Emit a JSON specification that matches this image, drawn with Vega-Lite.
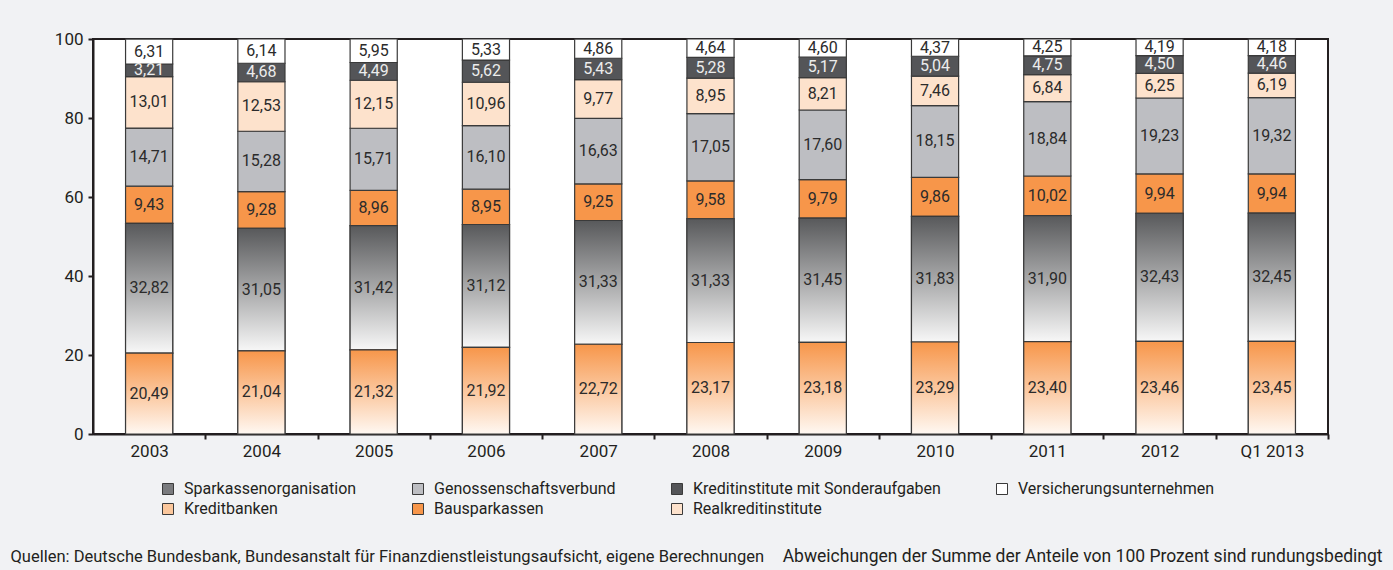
{
  "$schema": "https://vega.github.io/schema/vega-lite/v6.json",
  "width": 1235,
  "height": 395,
  "autosize": {"type": "none"},
  "padding": {"left": 93, "top": 39, "right": 65, "bottom": 136},
  "background": "#f1f2f4",
  "config": {
    "locale": {"number": {"decimal": ",", "thousands": ".", "grouping": [3], "currency": ["", " €"]}},
    "view": {"fill": "#ffffff", "stroke": "#231f20", "strokeWidth": 2},
    "font": "Roboto"
  },
  "data": {"values": [
    {"year": "2003", "series": "Kreditbanken", "value": 20.49},
    {"year": "2003", "series": "Sparkassenorganisation", "value": 32.82},
    {"year": "2003", "series": "Bausparkassen", "value": 9.43},
    {"year": "2003", "series": "Genossenschaftsverbund", "value": 14.71},
    {"year": "2003", "series": "Realkreditinstitute", "value": 13.01},
    {"year": "2003", "series": "Kreditinstitute mit Sonderaufgaben", "value": 3.21},
    {"year": "2003", "series": "Versicherungsunternehmen", "value": 6.31},
    {"year": "2004", "series": "Kreditbanken", "value": 21.04},
    {"year": "2004", "series": "Sparkassenorganisation", "value": 31.05},
    {"year": "2004", "series": "Bausparkassen", "value": 9.28},
    {"year": "2004", "series": "Genossenschaftsverbund", "value": 15.28},
    {"year": "2004", "series": "Realkreditinstitute", "value": 12.53},
    {"year": "2004", "series": "Kreditinstitute mit Sonderaufgaben", "value": 4.68},
    {"year": "2004", "series": "Versicherungsunternehmen", "value": 6.14},
    {"year": "2005", "series": "Kreditbanken", "value": 21.32},
    {"year": "2005", "series": "Sparkassenorganisation", "value": 31.42},
    {"year": "2005", "series": "Bausparkassen", "value": 8.96},
    {"year": "2005", "series": "Genossenschaftsverbund", "value": 15.71},
    {"year": "2005", "series": "Realkreditinstitute", "value": 12.15},
    {"year": "2005", "series": "Kreditinstitute mit Sonderaufgaben", "value": 4.49},
    {"year": "2005", "series": "Versicherungsunternehmen", "value": 5.95},
    {"year": "2006", "series": "Kreditbanken", "value": 21.92},
    {"year": "2006", "series": "Sparkassenorganisation", "value": 31.12},
    {"year": "2006", "series": "Bausparkassen", "value": 8.95},
    {"year": "2006", "series": "Genossenschaftsverbund", "value": 16.10},
    {"year": "2006", "series": "Realkreditinstitute", "value": 10.96},
    {"year": "2006", "series": "Kreditinstitute mit Sonderaufgaben", "value": 5.62},
    {"year": "2006", "series": "Versicherungsunternehmen", "value": 5.33},
    {"year": "2007", "series": "Kreditbanken", "value": 22.72},
    {"year": "2007", "series": "Sparkassenorganisation", "value": 31.33},
    {"year": "2007", "series": "Bausparkassen", "value": 9.25},
    {"year": "2007", "series": "Genossenschaftsverbund", "value": 16.63},
    {"year": "2007", "series": "Realkreditinstitute", "value": 9.77},
    {"year": "2007", "series": "Kreditinstitute mit Sonderaufgaben", "value": 5.43},
    {"year": "2007", "series": "Versicherungsunternehmen", "value": 4.86},
    {"year": "2008", "series": "Kreditbanken", "value": 23.17},
    {"year": "2008", "series": "Sparkassenorganisation", "value": 31.33},
    {"year": "2008", "series": "Bausparkassen", "value": 9.58},
    {"year": "2008", "series": "Genossenschaftsverbund", "value": 17.05},
    {"year": "2008", "series": "Realkreditinstitute", "value": 8.95},
    {"year": "2008", "series": "Kreditinstitute mit Sonderaufgaben", "value": 5.28},
    {"year": "2008", "series": "Versicherungsunternehmen", "value": 4.64},
    {"year": "2009", "series": "Kreditbanken", "value": 23.18},
    {"year": "2009", "series": "Sparkassenorganisation", "value": 31.45},
    {"year": "2009", "series": "Bausparkassen", "value": 9.79},
    {"year": "2009", "series": "Genossenschaftsverbund", "value": 17.60},
    {"year": "2009", "series": "Realkreditinstitute", "value": 8.21},
    {"year": "2009", "series": "Kreditinstitute mit Sonderaufgaben", "value": 5.17},
    {"year": "2009", "series": "Versicherungsunternehmen", "value": 4.60},
    {"year": "2010", "series": "Kreditbanken", "value": 23.29},
    {"year": "2010", "series": "Sparkassenorganisation", "value": 31.83},
    {"year": "2010", "series": "Bausparkassen", "value": 9.86},
    {"year": "2010", "series": "Genossenschaftsverbund", "value": 18.15},
    {"year": "2010", "series": "Realkreditinstitute", "value": 7.46},
    {"year": "2010", "series": "Kreditinstitute mit Sonderaufgaben", "value": 5.04},
    {"year": "2010", "series": "Versicherungsunternehmen", "value": 4.37},
    {"year": "2011", "series": "Kreditbanken", "value": 23.40},
    {"year": "2011", "series": "Sparkassenorganisation", "value": 31.90},
    {"year": "2011", "series": "Bausparkassen", "value": 10.02},
    {"year": "2011", "series": "Genossenschaftsverbund", "value": 18.84},
    {"year": "2011", "series": "Realkreditinstitute", "value": 6.84},
    {"year": "2011", "series": "Kreditinstitute mit Sonderaufgaben", "value": 4.75},
    {"year": "2011", "series": "Versicherungsunternehmen", "value": 4.25},
    {"year": "2012", "series": "Kreditbanken", "value": 23.46},
    {"year": "2012", "series": "Sparkassenorganisation", "value": 32.43},
    {"year": "2012", "series": "Bausparkassen", "value": 9.94},
    {"year": "2012", "series": "Genossenschaftsverbund", "value": 19.23},
    {"year": "2012", "series": "Realkreditinstitute", "value": 6.25},
    {"year": "2012", "series": "Kreditinstitute mit Sonderaufgaben", "value": 4.50},
    {"year": "2012", "series": "Versicherungsunternehmen", "value": 4.19},
    {"year": "Q1 2013", "series": "Kreditbanken", "value": 23.45},
    {"year": "Q1 2013", "series": "Sparkassenorganisation", "value": 32.45},
    {"year": "Q1 2013", "series": "Bausparkassen", "value": 9.94},
    {"year": "Q1 2013", "series": "Genossenschaftsverbund", "value": 19.32},
    {"year": "Q1 2013", "series": "Realkreditinstitute", "value": 6.19},
    {"year": "Q1 2013", "series": "Kreditinstitute mit Sonderaufgaben", "value": 4.46},
    {"year": "Q1 2013", "series": "Versicherungsunternehmen", "value": 4.18}
  ]},
  "transform": [
    {"calculate": "indexof(['Kreditbanken','Sparkassenorganisation','Bausparkassen','Genossenschaftsverbund','Realkreditinstitute','Kreditinstitute mit Sonderaufgaben','Versicherungsunternehmen'], datum.series)", "as": "rank"},
    {"stack": "value", "groupby": ["year"], "sort": [{"field": "rank", "order": "ascending"}], "as": ["y0", "y1"]},
    {"calculate": "(datum.y0 + datum.y1) / 2", "as": "ymid"}
  ],
  "encoding": {
    "x": {
      "field": "year", "type": "ordinal", "sort": null,
      "scale": {"paddingInner": 0.58, "paddingOuter": 0.29},
      "axis": {
        "title": "Abweichungen der Summe der Anteile von 100 Prozent sind rundungsbedingt",
        "titleX": 1289, "titleY": 127, "titleAlign": "right", "titleAnchor": "end", "titleBaseline": "alphabetic",
        "titleFontSize": 17.5, "titleFontWeight": "normal", "titleColor": "#231f20", "titleFont": "Roboto",
        "labelAngle": 0, "labelFontSize": 17, "labelColor": "#231f20", "labelPadding": 4, "labelFont": "Roboto",
        "tickOffset": 56.14, "labelOffset": -56.14,
        "tickSize": 5, "tickWidth": 2, "tickColor": "#231f20",
        "domainColor": "#231f20", "domainWidth": 2
      }
    },
    "y": {
      "field": "y0", "type": "quantitative",
      "scale": {"domain": [0, 100], "nice": false},
      "axis": {
        "values": [0, 20, 40, 60, 80, 100], "grid": false,
        "tickSize": 5, "tickWidth": 2, "tickColor": "#231f20",
        "domainColor": "#231f20", "domainWidth": 2,
        "labelFontSize": 17, "labelColor": "#231f20", "labelPadding": 5, "labelFont": "Roboto",
        "title": "Quellen: Deutsche Bundesbank, Bundesanstalt für Finanzdienstleistungsaufsicht, eigene Berechnungen",
        "titleX": -83, "titleY": 522, "titleAngle": 0, "titleAlign": "left", "titleAnchor": "start", "titleBaseline": "alphabetic",
        "titleFontSize": 16.5, "titleFontWeight": "normal", "titleColor": "#231f20", "titleFont": "Roboto"
      }
    },
    "y2": {"field": "y1"}
  },
  "layer": [
    {
      "mark": {"type": "bar", "stroke": "#3a3a3a", "strokeWidth": 1.2},
      "encoding": {
        "fill": {
          "field": "series", "type": "nominal",
          "scale": {
            "domain": ["Sparkassenorganisation", "Kreditbanken", "Genossenschaftsverbund", "Bausparkassen", "Kreditinstitute mit Sonderaufgaben", "Realkreditinstitute", "Versicherungsunternehmen"],
            "range": ["#7a7b7e", "#fbc79c", "#bdbec2", "#f7964a", "#545558", "#fde2cc", "#ffffff"]
          },
          "legend": {
            "orient": "none", "legendX": 67, "legendY": 442, "columns": 4, "title": null,
            "symbolType": "square", "symbolSize": 121, "symbolStrokeColor": "#3a3a3a", "symbolStrokeWidth": 1,
            "labelFontSize": 16, "labelColor": "#231f20", "labelFont": "Roboto", "labelOffset": 8, "labelLimit": 400,
            "columnPadding": 53, "rowPadding": 4
          }
        }
      }
    },
    {
      "transform": [{"filter": "datum.series === 'Sparkassenorganisation'"}],
      "mark": {"type": "bar", "stroke": "#3a3a3a", "strokeWidth": 1.2,
        "fill": {"gradient": "linear", "x1": 0, "y1": 0, "x2": 0, "y2": 1, "stops": [{"offset": 0, "color": "#58595b"}, {"offset": 1, "color": "#f7f7f7"}]}}
    },
    {
      "transform": [{"filter": "datum.series === 'Kreditbanken'"}],
      "mark": {"type": "bar", "stroke": "#3a3a3a", "strokeWidth": 1.2,
        "fill": {"gradient": "linear", "x1": 0, "y1": 0, "x2": 0, "y2": 1, "stops": [{"offset": 0, "color": "#f7964a"}, {"offset": 1, "color": "#fff8f2"}]}}
    },
    {
      "mark": {"type": "text", "fontSize": 16, "baseline": "middle", "font": "Roboto"},
      "encoding": {
        "y": {"field": "ymid", "type": "quantitative"},
        "y2": null,
        "text": {"field": "value", "type": "quantitative", "format": ".2f"},
        "color": {"condition": {"test": "datum.series === 'Kreditinstitute mit Sonderaufgaben'", "value": "#ececec"}, "value": "#2b2b2b"}
      }
    }
  ]
}
